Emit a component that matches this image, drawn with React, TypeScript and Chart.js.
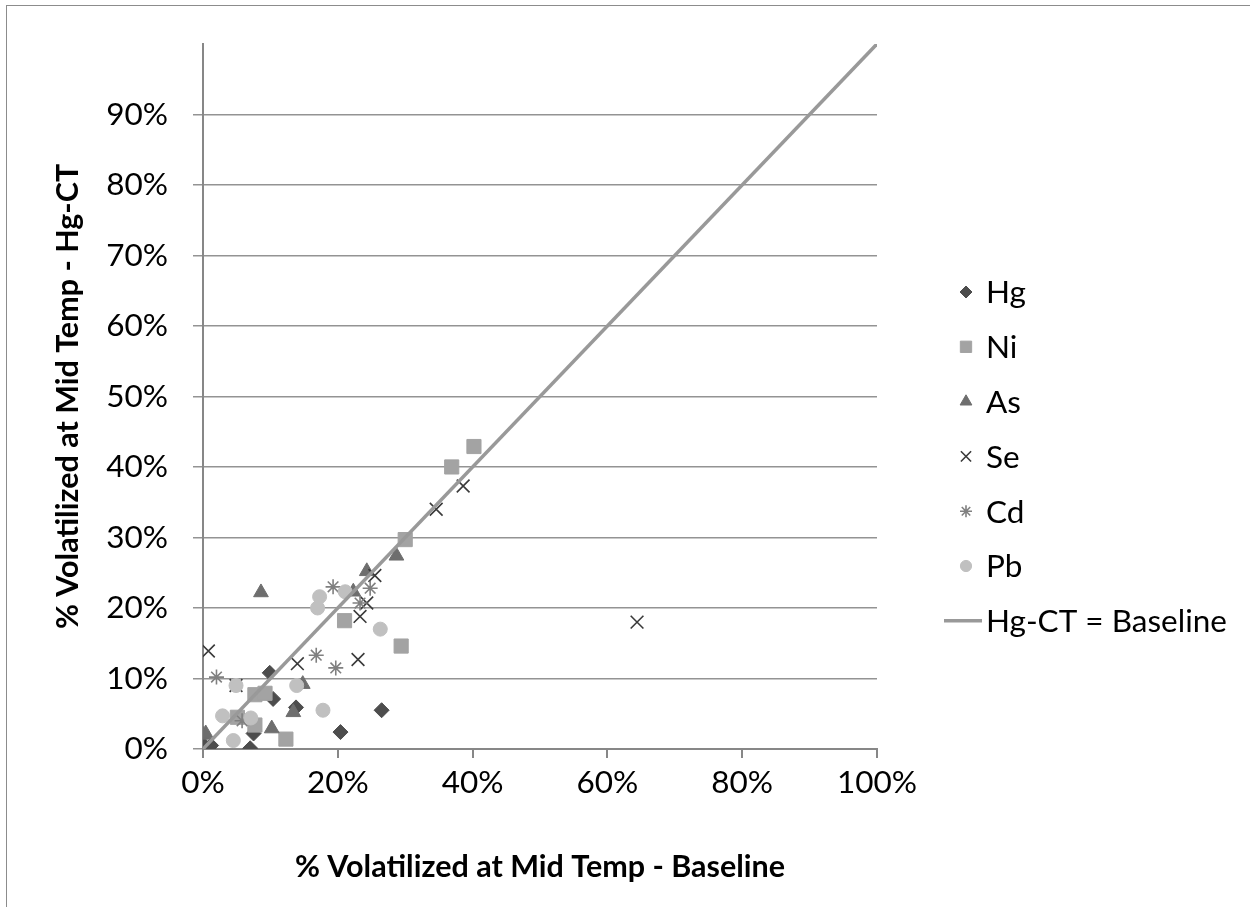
import React, { useEffect, useRef } from 'react';
import { Chart, registerables } from 'chart.js';
import { drawPoint } from 'chart.js/helpers';

Chart.register(...registerables);

// ---- Data (fractions: x = baseline, y = Hg-CT) ----
const hgPoints = [[0.0, 0.007], [0.012, 0.005], [0.070, 0.001], [0.075, 0.022], [0.099, 0.108], [0.104, 0.071], [0.138, 0.059], [0.204, 0.024], [0.265, 0.055]];
const niPoints = [[0.402, 0.429], [0.369, 0.400], [0.300, 0.297], [0.210, 0.182], [0.294, 0.146], [0.077, 0.077], [0.092, 0.079], [0.051, 0.045], [0.077, 0.034], [0.123, 0.014]];
const asPoints = [[0.086, 0.222], [0.287, 0.274], [0.243, 0.252], [0.223, 0.223], [0.148, 0.092], [0.134, 0.052], [0.102, 0.029], [0.0, 0.020], [0.004, 0.022]];
const sePoints = [[0.008, 0.139], [0.049, 0.090], [0.140, 0.121], [0.230, 0.127], [0.233, 0.188], [0.243, 0.207], [0.255, 0.246], [0.346, 0.340], [0.386, 0.373], [0.644, 0.180]];
const cdPoints = [[0.020, 0.102], [0.058, 0.040], [0.168, 0.133], [0.197, 0.115], [0.193, 0.230], [0.233, 0.207], [0.248, 0.228]];
const pbPoints = [[0.173, 0.216], [0.170, 0.200], [0.211, 0.223], [0.263, 0.170], [0.049, 0.090], [0.139, 0.090], [0.178, 0.055], [0.029, 0.047], [0.071, 0.044], [0.045, 0.012]];
const parityLine = [[0, 0], [1, 1]];

const seriesLabels = ['Hg', 'Ni', 'As', 'Se', 'Cd', 'Pb', 'Hg-CT = Baseline'];
const xTitle = '% Volatilized at Mid Temp - Baseline';
const yTitle = '% Volatilized at Mid Temp - Hg-CT';
const xTickStep = 0.2;
const yTickStep = 0.1;
const axisMin = 0;
const axisMax = 1;

// ---- Styles ----
const FONT = 'Lato';
const AXIS = '#878787';
const GRID = '#939393';

const toXY = (pts: number[][]) => pts.map(([x, y]) => ({ x, y }));
const pct = (v: number) => Math.round(v * 100) + '%';

const legendPlugin = {
  id: 'customLegend',
  afterDraw(chart: any) {
    const ctx = chart.ctx;
    const markerX = 966;
    const textX = 986;
    const y0 = 292;
    const dy = 54.8;
    const fs = 31.5;
    ctx.save();
    chart.data.datasets.forEach((ds: any, i: number) => {
      const cy = y0 + i * dy;
      if (ds.showLine) {
        ctx.strokeStyle = ds.borderColor;
        ctx.lineWidth = ds.borderWidth;
        ctx.beginPath();
        ctx.moveTo(944, cy);
        ctx.lineTo(982, cy);
        ctx.stroke();
      } else {
        ctx.fillStyle = ds.pointBackgroundColor;
        ctx.strokeStyle = ds.pointBorderColor;
        ctx.lineWidth = ds.pointBorderWidth;
        drawPoint(ctx, {
          pointStyle: ds.pointStyle,
          rotation: 0,
          radius: ds.pointRadius * 0.8,
          borderWidth: ds.pointBorderWidth,
        }, markerX, cy);
      }
      ctx.fillStyle = '#000';
      ctx.font = `${fs}px ${FONT}`;
      ctx.textAlign = 'left';
      ctx.textBaseline = 'alphabetic';
      ctx.fillText(ds.label, textX, cy + fs * 0.36);
    });
    ctx.restore();
  },
};

const framePlugin = {
  id: 'frame',
  beforeDraw(chart: any) {
    const ctx = chart.ctx;
    ctx.save();
    ctx.fillStyle = '#fff';
    ctx.fillRect(0, 0, chart.width, chart.height);
    ctx.strokeStyle = '#8c8c8c';
    ctx.lineWidth = 1;
    ctx.strokeRect(6.5, 5.5, chart.width + 20, chart.height + 20);
    ctx.restore();
  },
};

function pointDs(label: string, pts: number[][], style: string, r: number, fill: string, stroke: string, bw: number, order: number) {
  return {
    type: 'scatter' as const,
    label,
    data: toXY(pts),
    pointStyle: style,
    pointRadius: r,
    pointHoverRadius: r,
    pointBackgroundColor: fill,
    pointBorderColor: stroke,
    pointBorderWidth: bw,
    backgroundColor: fill,
    borderColor: stroke,
    showLine: false,
    order,
  };
}

export default function App() {
  const ref = useRef<HTMLCanvasElement | null>(null);
  useEffect(() => {
    if (!ref.current) return;
    const datasets: any[] = [
      pointDs(seriesLabels[0], hgPoints, 'rectRot', 7.5, '#4d4d4d', '#4d4d4d', 1, 6),
      pointDs(seriesLabels[1], niPoints, 'rect', 10, '#a3a3a3', '#a3a3a3', 1, 5),
      pointDs(seriesLabels[2], asPoints, 'triangle', 8.5, '#6e6e6e', '#6e6e6e', 1, 4),
      pointDs(seriesLabels[3], sePoints, 'crossRot', 9, '#3a3a3a', '#3a3a3a', 1.6, 3),
      pointDs(seriesLabels[4], cdPoints, 'star', 7.5, '#808080', '#808080', 1.6, 2),
      pointDs(seriesLabels[5], pbPoints, 'circle', 7, '#c0c0c0', '#c0c0c0', 1, 1),
      {
        type: 'scatter' as const,
        label: seriesLabels[6],
        data: toXY(parityLine),
        showLine: true,
        borderColor: '#999999',
        backgroundColor: '#999999',
        borderWidth: 3.5,
        pointRadius: 0,
        pointHoverRadius: 0,
        order: 0,
      },
    ];
    const chart = new Chart(ref.current, {
      type: 'scatter',
      data: { datasets },
      plugins: [framePlugin, legendPlugin],
      options: {
        animation: false,
        responsive: false,
        devicePixelRatio: 1,
        layout: { padding: { left: 0, right: 373, top: 36, bottom: 0 } },
        plugins: { legend: { display: false }, tooltip: { enabled: false } },
        scales: {
          x: {
            type: 'linear',
            position: 'bottom',
            min: axisMin,
            max: axisMax,
            ticks: {
              stepSize: xTickStep,
              callback: (v: any) => pct(Number(v)),
              font: { family: FONT, size: 31.5 },
              color: '#000',
              padding: 6,
            },
            grid: { drawOnChartArea: false, drawTicks: true, tickLength: 9, color: AXIS, lineWidth: 2 },
            border: { display: true, color: AXIS, width: 2 },
            title: {
              display: true,
              text: xTitle,
              font: { family: FONT, size: 30.5, weight: 'bold' },
              color: '#000',
              padding: { top: 0, bottom: 22 },
            },
            afterFit: (s: any) => { s.height = 158; },
          },
          y: {
            type: 'linear',
            min: axisMin,
            max: axisMax,
            ticks: {
              stepSize: yTickStep,
              callback: (v: any) => (Number(v) >= 0.999 ? '' : pct(Number(v))),
              font: { family: FONT, size: 31.5 },
              color: '#000',
              padding: 25,
            },
            grid: {
              color: (c: any) => (c.tick && c.tick.value >= 0.999 ? 'rgba(0,0,0,0)' : GRID),
              lineWidth: 1.5,
              tickLength: 10,
            },
            border: { display: true, color: AXIS, width: 2 },
            title: {
              display: true,
              text: yTitle,
              font: { family: FONT, size: 30.5, weight: 'bold' },
              color: '#000',
              padding: { top: 50, bottom: 0 },
            },
            afterFit: (s: any) => { s.width = 203; },
          },
        },
      } as any,
    });
    return () => chart.destroy();
  }, []);
  return (
    <div style={{ position: 'absolute', left: 0, top: 0, width: 1250, height: 907 }}>
      <canvas ref={ref} width={1250} height={907} style={{ width: 1250, height: 907, display: 'block' }} />
    </div>
  );
}
